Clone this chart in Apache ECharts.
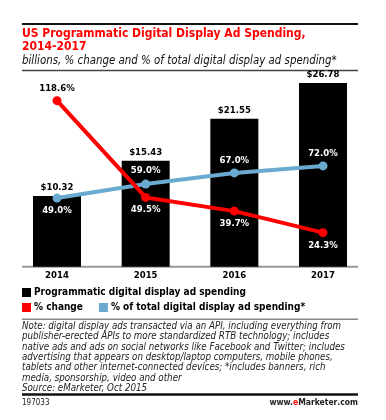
<!DOCTYPE html>
<html><head><meta charset="utf-8">
<script src="https://cdn.jsdelivr.net/npm/echarts@6/dist/echarts.min.js"></script>
<style>html,body{margin:0;padding:0;background:#fff}#c{width:386px;height:420px}</style>
</head><body><div id="c"></div>
<script>
const categories = ['2014', '2015', '2016', '2017'];
const spending = [10.32, 15.43, 21.55, 26.78];
const pctChange = [118.6, 49.5, 39.7, 24.3];
const pctOfTotal = [49.0, 59.0, 67.0, 72.0];
const seriesNames = ['Programmatic digital display ad spending', '% change', '% of total digital display ad spending*'];

const F = '"DejaVu Sans Condensed", "DejaVu Sans", sans-serif';
const chart = echarts.init(document.getElementById('c'), null, {renderer: 'canvas'});

const redPos = ['top', 'bottom', 'bottom', 'bottom'];
const bluePos = ['bottom', 'top', 'top', 'top'];
const blueDist = [3, 4.5, 3, 3];

chart.setOption({
  animation: false,
  backgroundColor: '#fff',
  title: [
    {text: 'US Programmatic Digital Display Ad Spending,\n2014-2017', left: 22, top: 27, padding: 0,
     textStyle: {fontFamily: F, fontWeight: 'bold', fontSize: 12, lineHeight: 13.2, color: '#ff0000'}},
    {text: 'billions, % change and % of total digital display ad spending*', left: 22, top: 55, padding: 0,
     textStyle: {fontFamily: F, fontStyle: 'italic', fontWeight: 'normal', fontSize: 11.4, lineHeight: 12, color: '#111'}},
    {text: 'Note: digital display ads transacted via an API, including everything from\npublisher-erected APIs to more standardized RTB technology; includes\nnative ads and ads on social networks like Facebook and Twitter; includes\nadvertising that appears on desktop/laptop computers, mobile phones,\ntablets and other internet-connected devices; *includes banners, rich\nmedia, sponsorship, video and other\nSource: eMarketer, Oct 2015',
     left: 22, top: 321.5, padding: 0,
     textStyle: {fontFamily: F, fontStyle: 'italic', fontWeight: 'normal', fontSize: 9.7, lineHeight: 10.3, color: '#222'}},
    {text: '197033', left: 22, top: 398.5, padding: 0,
     textStyle: {fontFamily: F, fontWeight: 'normal', fontSize: 8, lineHeight: 9, color: '#222'}},
    {text: '{a|www.}{e|e}{m|Marketer}{a|.com}', right: 28, top: 398.5, padding: 0,
     textStyle: {rich: {
       a: {fontFamily: F, fontSize: 8.5, color: '#222'},
       e: {fontFamily: F, fontSize: 8.5, fontWeight: 'bold', color: '#ff0000'},
       m: {fontFamily: F, fontSize: 8.5, fontWeight: 'bold', color: '#222'}}}}
  ],
  legend: [
    {data: [seriesNames[0]], left: 22, top: 287.5, padding: 0, itemWidth: 9, itemHeight: 9, icon: 'rect',
     textStyle: {fontFamily: F, fontWeight: 'bold', fontSize: 10, color: '#000', padding: [0, 0, 0, -2]}},
    {data: [seriesNames[1], seriesNames[2]], left: 22, top: 302.5, padding: 0, itemWidth: 9, itemHeight: 9, icon: 'rect', itemGap: 16,
     textStyle: {fontFamily: F, fontWeight: 'bold', fontSize: 10, color: '#000', padding: [0, 0, 0, -2]}}
  ],
  grid: {left: 12.67, right: 18.67, top: 70, bottom: 153.3},
  xAxis: {type: 'category', data: categories, axisLine: {show: false}, axisTick: {show: false},
    axisLabel: {fontFamily: F, fontWeight: 'bold', fontSize: 9.5, color: '#000', margin: 4}},
  yAxis: [
    {type: 'value', min: 0, max: 28.67, show: false, splitLine: {show: false}},
    {type: 'value', min: 0, max: 140.5, show: false, splitLine: {show: false}}
  ],
  series: [
    {name: seriesNames[0], type: 'bar', data: spending, barWidth: 48, yAxisIndex: 0,
     itemStyle: {color: '#000'},
     label: {show: true, position: 'top', distance: 3, formatter: p => '$' + p.value.toFixed(2),
       fontFamily: F, fontWeight: 'bold', fontSize: 9.5, color: '#000'}},
    {name: seriesNames[2], type: 'line', yAxisIndex: 1, z: 3,
     data: pctOfTotal.map((v, i) => ({value: v, label: {position: bluePos[i], distance: blueDist[i]}})),
     lineStyle: {color: '#6aaad0', width: 4}, itemStyle: {color: '#6aaad0'},
     symbol: 'circle', symbolSize: 9,
     label: {show: true, distance: 3, formatter: p => p.value.toFixed(1) + '%',
       fontFamily: F, fontWeight: 'bold', fontSize: 9.5, color: '#fff'}},
    {name: seriesNames[1], type: 'line', yAxisIndex: 1, z: 4,
     data: pctChange.map((v, i) => ({value: v, label: {position: redPos[i], color: i === 0 ? '#000' : '#fff'}})),
     lineStyle: {color: '#ff0000', width: 4}, itemStyle: {color: '#ff0000'},
     symbol: 'circle', symbolSize: 9,
     label: {show: true, distance: 3, formatter: p => p.value.toFixed(1) + '%',
       fontFamily: F, fontWeight: 'bold', fontSize: 9.5}}
  ],
  graphic: [
    {type: 'line', shape: {x1: 22, y1: 24, x2: 358, y2: 24}, style: {stroke: '#111', lineWidth: 2}},
    {type: 'line', shape: {x1: 22, y1: 70.5, x2: 358, y2: 70.5}, style: {stroke: '#444', lineWidth: 1.5}},
    {type: 'line', shape: {x1: 22, y1: 266.7, x2: 358, y2: 266.7}, style: {stroke: '#999', lineWidth: 2}},
    {type: 'line', shape: {x1: 22, y1: 319.3, x2: 358, y2: 319.3}, style: {stroke: '#888', lineWidth: 1.5}},
    {type: 'line', shape: {x1: 22, y1: 394.5, x2: 358, y2: 394.5}, style: {stroke: '#111', lineWidth: 2.5}}
  ]
});
</script></body></html>
